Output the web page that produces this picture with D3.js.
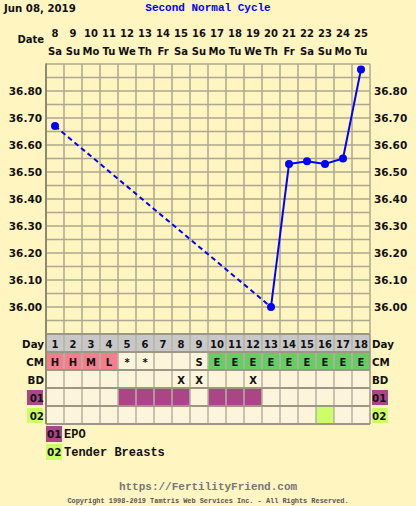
<!DOCTYPE html>
<html>
<head>
<meta charset="utf-8">
<script src="https://cdn.jsdelivr.net/npm/d3@7"></script>
<style>
  body { margin: 0; background: #fff5c0; }
  svg { display: block; }
</style>
</head>
<body>
<div id="chart"></div>
<script>
// chart data
const cycleDays = [1, 2, 3, 4, 5, 6, 7, 8, 9, 10, 11, 12, 13, 14, 15, 16, 17, 18];
const dates = [8, 9, 10, 11, 12, 13, 14, 15, 16, 17, 18, 19, 20, 21, 22, 23, 24, 25];
const weekdays = ["Sa", "Su", "Mo", "Tu", "We", "Th", "Fr", "Sa", "Su", "Mo", "Tu", "We", "Th", "Fr", "Sa", "Su", "Mo", "Tu"];
const temps = [36.67, null, null, null, null, null, null, null, null, null, null, null, 36.00, 36.53, 36.54, 36.53, 36.55, 36.88];
const cervical = ["H", "H", "M", "L", "*", "*", "", "", "S", "E", "E", "E", "E", "E", "E", "E", "E", "E"];
const intercourse = ["", "", "", "", "", "", "", "X", "X", "", "", "X", "", "", "", "", "", ""];
const epo = [0, 0, 0, 0, 1, 1, 1, 1, 0, 1, 1, 1, 0, 0, 0, 0, 0, 0];
const tender = [0, 0, 0, 0, 0, 0, 0, 0, 0, 0, 0, 0, 0, 0, 0, 1, 0, 0];
const tempTicks = [36.00, 36.10, 36.20, 36.30, 36.40, 36.50, 36.60, 36.70, 36.80];
const tempDomain = [35.90, 36.90];

const width = 416, height = 506;
const gLeft = 46, gRight = 370, gTop = 64, gBottom = 334;
const rowH = 18;

const bg = "#fff5c0", cellBg = "#fdf4dc", gridColor = "#aea78f";
const pink = "#f47d8e", green = "#66cc66", purple = "#ab4585", lime = "#ccff66";
const sans = "DejaVu Sans, Verdana, sans-serif";
const mono = "Liberation Mono, Courier New, monospace";

const svg = d3.select("#chart").append("svg")
  .attr("width", width)
  .attr("height", height);

svg.append("rect").attr("width", width).attr("height", height).attr("fill", bg);

const x = d3.scaleBand().domain(cycleDays).range([gLeft, gRight]);
const y = d3.scaleLinear().domain(tempDomain).range([gBottom, gTop]);
const cx = (d) => x(d) + x.bandwidth() / 2;

// header
svg.append("text").attr("x", 4).attr("y", 12)
  .attr("font-family", sans).attr("font-size", 10.2).attr("font-weight", "bold")
  .attr("fill", "#111").text("Jun 08, 2019");
svg.append("text").attr("x", 208).attr("y", 11).attr("text-anchor", "middle")
  .attr("font-family", mono).attr("font-size", 11).attr("font-weight", "bold")
  .attr("fill", "#0000ff").text("Second Normal Cycle");

svg.append("text").attr("x", 44).attr("y", 43).attr("text-anchor", "end")
  .attr("font-family", sans).attr("font-size", 10).attr("font-weight", "bold")
  .attr("fill", "#111").text("Date");

const header = svg.append("g")
  .attr("font-family", sans).attr("font-size", 10).attr("font-weight", "bold")
  .attr("fill", "#111").attr("text-anchor", "middle");
header.selectAll(".date").data(cycleDays).join("text")
  .attr("x", cx).attr("y", 36.5).text((d, i) => dates[i]);
header.selectAll(".wd").data(cycleDays).join("text")
  .attr("x", cx).attr("y", 54.5).text((d, i) => weekdays[i]);

// temperature grid
const grid = svg.append("g").attr("stroke", gridColor).attr("stroke-width", 1.5);
const hLines = d3.range(0, 21).map((k) => tempDomain[0] + k * 0.05);
grid.selectAll(".h").data(hLines).join("line")
  .attr("x1", gLeft).attr("x2", gRight)
  .attr("y1", (d) => y(d)).attr("y2", (d) => y(d));
grid.selectAll(".v").data(cycleDays.concat([null])).join("line")
  .attr("x1", (d, i) => gLeft + i * x.bandwidth())
  .attr("x2", (d, i) => gLeft + i * x.bandwidth())
  .attr("y1", gTop).attr("y2", gBottom);
svg.append("line").attr("x1", gLeft).attr("x2", gLeft)
  .attr("y1", gTop - 0.5).attr("y2", gBottom)
  .attr("stroke", "#8f8872").attr("stroke-width", 2);

// axis labels on both sides
const tickFmt = d3.format(".2f");
const axisText = svg.append("g")
  .attr("font-family", sans).attr("font-size", 10.5).attr("font-weight", "bold")
  .attr("fill", "#111");
axisText.selectAll(".tl").data(tempTicks).join("text")
  .attr("x", 42).attr("y", (d) => y(d) + 4).attr("text-anchor", "end")
  .text(tickFmt);
axisText.selectAll(".tr").data(tempTicks).join("text")
  .attr("x", 374).attr("y", (d) => y(d) + 4).attr("text-anchor", "start")
  .text(tickFmt);

// temperature line: dashed across gaps, solid between consecutive days
const pts = cycleDays.map((d, i) => ({ day: d, t: temps[i] })).filter((p) => p.t != null);
const segs = d3.pairs(pts).map(([a, b]) => ({ a, b, gap: b.day - a.day > 1 }));
svg.append("g").selectAll("line").data(segs).join("line")
  .attr("x1", (s) => cx(s.a.day)).attr("y1", (s) => y(s.a.t))
  .attr("x2", (s) => cx(s.b.day)).attr("y2", (s) => y(s.b.t))
  .attr("stroke", "#0000ff").attr("stroke-width", 2)
  .attr("stroke-dasharray", (s) => (s.gap ? "5,3.5" : null));
svg.append("g").selectAll("circle").data(pts).join("circle")
  .attr("cx", (p) => cx(p.day)).attr("cy", (p) => y(p.t)).attr("r", 4)
  .attr("fill", "#0000ff");

// observation table
const rows = [
  { label: "Day", fill: () => "#c8c8c8", text: (i) => cycleDays[i] },
  { label: "CM", fill: (i) => (/[HML]/.test(cervical[i]) ? pink : cervical[i] === "E" ? green : cellBg), text: (i) => cervical[i] },
  { label: "BD", fill: () => cellBg, text: (i) => intercourse[i] },
  { label: "01", tag: purple, fill: (i) => (epo[i] ? purple : cellBg), text: () => "" },
  { label: "02", tag: lime, fill: (i) => (tender[i] ? lime : cellBg), text: () => "" },
];

const table = svg.append("g");
rows.forEach((row, r) => {
  const ry = gBottom + r * rowH;
  const g = table.append("g");
  g.selectAll("rect").data(cycleDays).join("rect")
    .attr("x", (d) => x(d)).attr("y", ry)
    .attr("width", x.bandwidth()).attr("height", rowH)
    .attr("fill", (d, i) => row.fill(i));
  g.selectAll("line").data(cycleDays.slice(1)).join("line")
    .attr("x1", (d) => x(d)).attr("x2", (d) => x(d))
    .attr("y1", ry).attr("y2", ry + rowH)
    .attr("stroke", "#b9b2a2").attr("stroke-width", 1.5);
  g.selectAll("text").data(cycleDays).join("text")
    .attr("x", cx).attr("y", ry + 13.5)
    .attr("text-anchor", "middle")
    .attr("font-family", sans).attr("font-size", 10).attr("font-weight", "bold")
    .attr("fill", "#111")
    .text((d, i) => row.text(i));

  // side labels
  [{ anchor: "end", bx: 27 }, { anchor: "start", bx: 372 }].forEach((s) => {
    if (row.tag) {
      table.append("rect").attr("x", s.bx).attr("y", ry + 2)
        .attr("width", 16).attr("height", 15).attr("fill", row.tag);
    }
    table.append("text").attr("x", s.anchor === "end" ? 44 : 372).attr("y", ry + 13.5)
      .attr("text-anchor", s.anchor)
      .attr("font-family", sans).attr("font-size", 10.3).attr("font-weight", "bold")
      .attr("fill", "#111").text(row.label);
  });
});
// row separators and border
table.selectAll(".sep").data(d3.range(0, rows.length + 1)).join("line")
  .attr("x1", gLeft).attr("x2", gRight)
  .attr("y1", (k) => gBottom + k * rowH).attr("y2", (k) => gBottom + k * rowH)
  .attr("stroke", "#9e9784").attr("stroke-width", 2);
table.append("line").attr("x1", gLeft).attr("x2", gLeft)
  .attr("y1", gBottom).attr("y2", gBottom + rows.length * rowH)
  .attr("stroke", "#8f8872").attr("stroke-width", 2);
table.append("line").attr("x1", gRight).attr("x2", gRight)
  .attr("y1", gBottom).attr("y2", gBottom + rows.length * rowH)
  .attr("stroke", "#9e9784").attr("stroke-width", 1.5);

// legend
const legend = [
  { code: "01", color: purple, name: "EPO" },
  { code: "02", color: lime, name: "Tender Breasts" },
];
const lg = svg.append("g").selectAll("g").data(legend).join("g")
  .attr("transform", (d, i) => `translate(46, ${426 + i * 18})`);
lg.append("rect").attr("width", 16).attr("height", 16).attr("fill", (d) => d.color);
lg.append("text").attr("x", 1).attr("y", 12)
  .attr("font-family", sans).attr("font-size", 10.5).attr("font-weight", "bold")
  .attr("fill", "#111").text((d) => d.code);
lg.append("text").attr("x", 18).attr("y", 12)
  .attr("font-family", mono).attr("font-size", 12).attr("font-weight", "bold")
  .attr("fill", "#111").text((d) => d.name);

// footer
svg.append("text").attr("x", 208).attr("y", 490).attr("text-anchor", "middle")
  .attr("font-family", mono).attr("font-size", 11).attr("font-weight", "bold")
  .attr("fill", "#777").text("https://FertilityFriend.com");
svg.append("text").attr("x", 208).attr("y", 503).attr("text-anchor", "middle")
  .attr("font-family", mono).attr("font-size", 6.9).attr("font-weight", "bold")
  .attr("fill", "#555").text("Copyright 1998-2019 Tamtris Web Services Inc. - All Rights Reserved.");
</script>
</body>
</html>
